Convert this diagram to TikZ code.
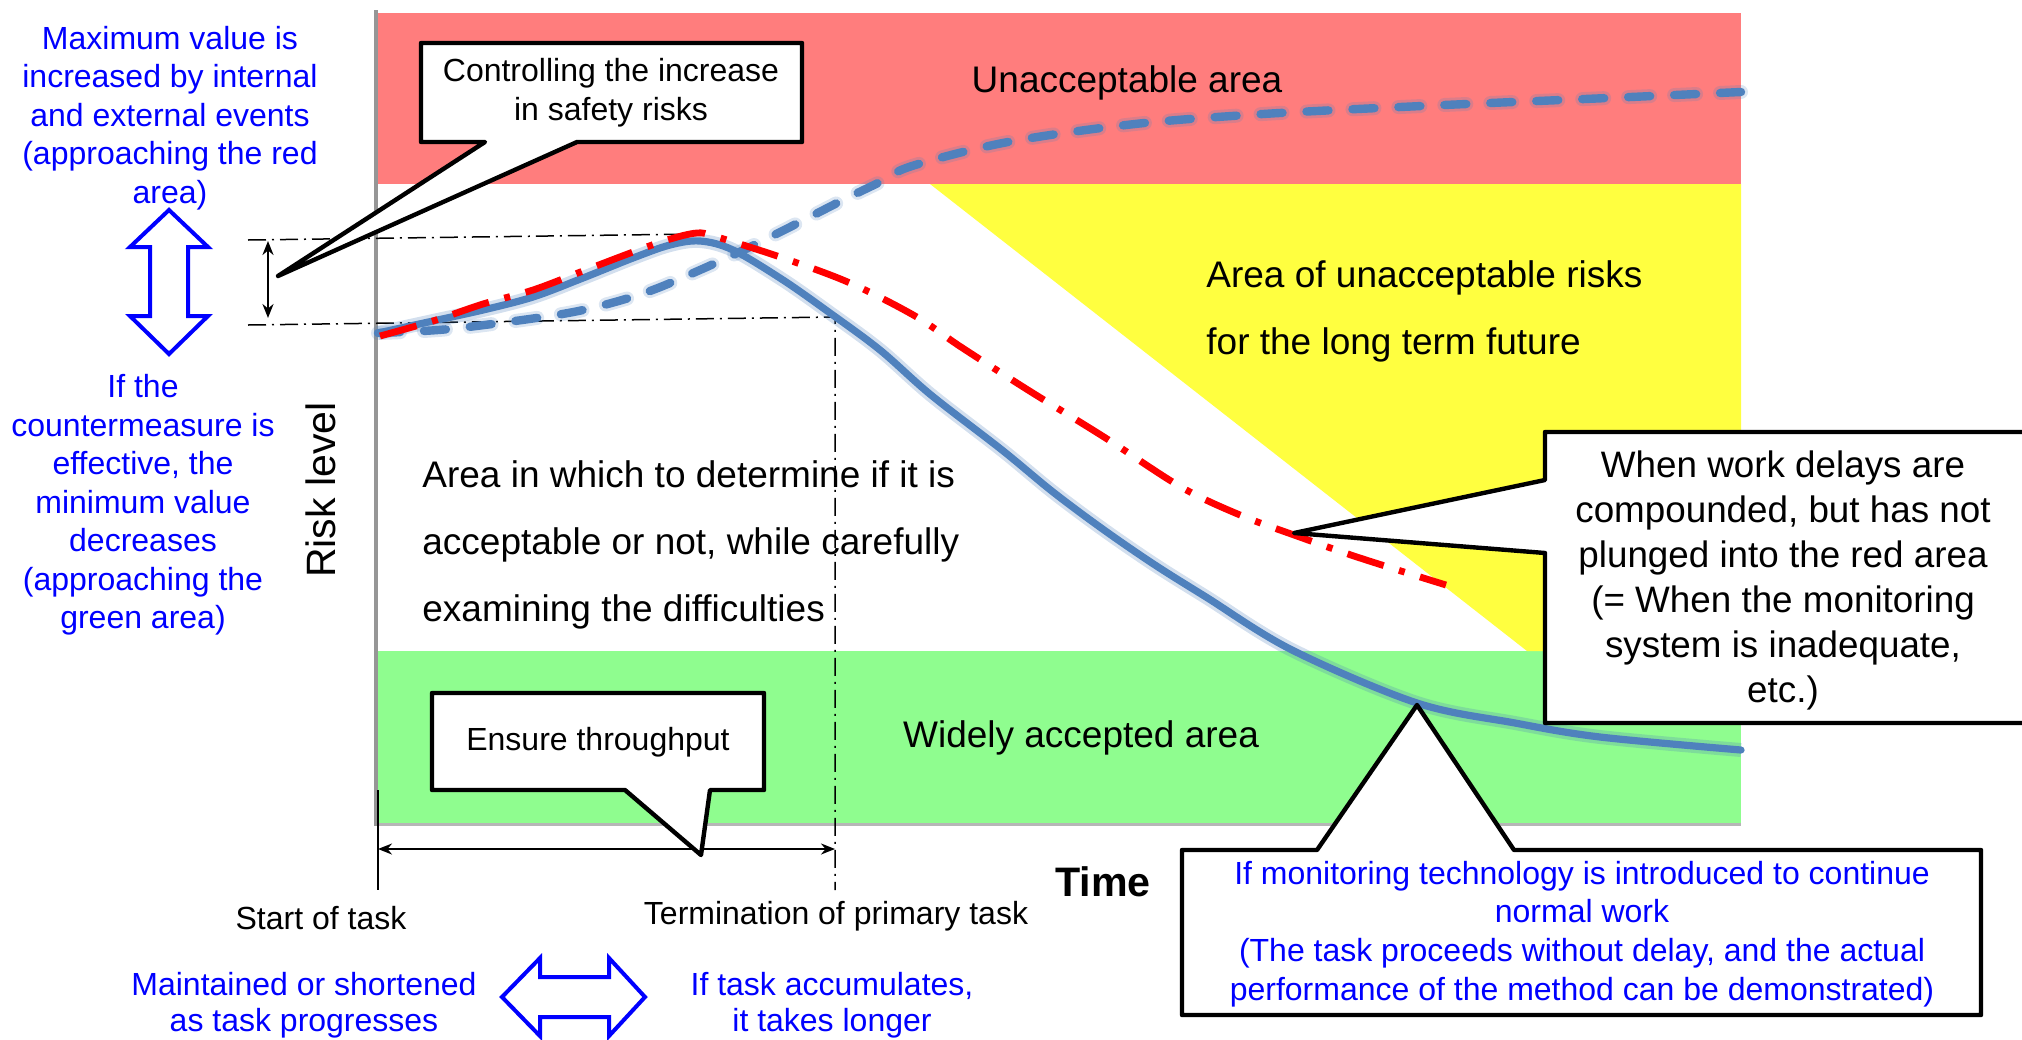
\documentclass[tikz,border=0pt]{standalone}
\usepackage{fontspec}
\setmainfont{Liberation Sans}
\usetikzlibrary{arrows.meta}

\definecolor{bandred}{RGB}{255,125,125}
\definecolor{bandyellow}{RGB}{255,255,64}
\definecolor{bandgreen}{RGB}{143,253,143}
\definecolor{curveblue}{RGB}{79,129,189}
\definecolor{curvered}{RGB}{255,0,0}
\definecolor{noteblue}{RGB}{0,0,255}
\definecolor{axisgray}{RGB}{150,150,150}

\begin{document}
\begin{tikzpicture}[x=0.5pt,y=-0.5pt,
  areatext/.style={font=\fontsize{18.5}{33.5}\selectfont, inner sep=0pt, align=left},
  plainlabel/.style={font=\fontsize{16}{19.25}\selectfont, inner sep=0pt, align=center},
  bluenote/.style={plainlabel, text=noteblue},
  balloon/.style={draw=black, fill=white, line width=2.2pt, line join=round},
  guide/.style={black, line width=0.75pt, dash pattern=on 9pt off 3pt on 1pt off 3pt},
  dimarrow/.style={black, line width=1.1pt, {Stealth[length=7pt,width=5.5pt]}-{Stealth[length=7pt,width=5.5pt]}},
  hollowarrow/.style={draw=noteblue, line width=2pt, line join=miter},
  riskcurve/.style={curveblue, line width=3.6pt, line cap=round,
    preaction={draw, curveblue, opacity=0.25, line width=7pt}},
  riskdashed/.style={curveblue, line width=4.2pt, line cap=round, dash pattern=on 11pt off 12pt,
    preaction={draw, curveblue, opacity=0.2, line width=7pt, line cap=round, dash pattern=on 11pt off 12pt}},
  delaycurve/.style={curvered, line width=3.4pt, dash pattern=on 19pt off 8pt on 3pt off 8pt}
]
\useasboundingbox (0,0) rectangle (2022,1039);

% risk bands
\fill[bandred] (376,13) rectangle (1741,184);
\fill[bandgreen] (376,651) rectangle (1741,823);
\fill[bandyellow] (930,184) -- (1741,184) -- (1741,651) -- (1527,651) -- cycle;
\draw[axisgray!70, line width=1.5pt] (378,824) -- (1741,824);
\draw[axisgray, line width=2pt] (376,10) -- (376,826);

% guide lines for the risk range and the primary task end
\coordinate (maxL) at (248,240);
\coordinate (maxR) at (697,234);
\coordinate (minL) at (248,325);
\coordinate (minR) at (835,317);
\coordinate (endB) at (835,890);
\draw[guide] (maxL) -- (maxR);
\draw[guide] (minL) -- (minR) -- (endB);

% range of risk level and task duration
\coordinate (rngtop) at (268,241);
\coordinate (rngbot) at (268,318);
\draw[dimarrow] (rngtop) -- (rngbot);
\coordinate (tstart) at (378,849);
\coordinate (tend) at (835,849);
\coordinate (tickT) at (378,790);
\coordinate (tickB) at (378,890);
\draw[black, line width=0.75pt] (tickT) -- (tickB);
\draw[dimarrow] (tstart) -- (tend);

% risk curves
\draw[riskdashed] plot[smooth, tension=0.55] coordinates {(378,333) (450,329) (550,316) (600,306) (650,291) (700,270) (750,247) (800,222) (843,200) (878,183) (912,166) (1008,142) (1135,124) (1263,114) (1422,106) (1608,98) (1741,92)};
\draw[riskcurve] plot[smooth, tension=0.55] coordinates {(378,333) (433,321) (483,310) (533,297) (583,278) (633,258) (670,245) (700,241) (733,250) (783,280) (830,313) (880,350) (931,395) (1002,450) (1053,492) (1104,530) (1155,565) (1206,597) (1292,650) (1417,703) (1515,723) (1600,737) (1741,750)};
\draw[delaycurve] plot[smooth, tension=0.55] coordinates {(380,336) (433,321) (483,304) (533,290) (583,271) (633,252) (667,240) (697,233) (717,237) (783,258) (850,283) (915,316) (961,347) (1028,390) (1104,437) (1181,487) (1240,515) (1294,535) (1360,558) (1446,585)};

% area labels
\node[areatext, anchor=center] (unacc) at (1127,83) {Unacceptable area};
\node[areatext, anchor=west] (longterm) at (1206,311) {Area of unacceptable risks\\for the long term future};
\node[areatext, anchor=west] (judge) at (422,545) {Area in which to determine if it is\\acceptable or not, while carefully\\examining the difficulties};
\node[areatext, anchor=center] (widely) at (1081,738) {Widely accepted area};

% axes labels
\node[font=\fontsize{20.5}{24}\selectfont, rotate=90, inner sep=0pt] (risklevel) at (321,490) {Risk level};
\node[font=\fontsize{20.6}{24}\selectfont\bfseries, inner sep=0pt] (time) at (1103,882) {Time};
\node[plainlabel] (start) at (321,918) {Start of task};
\node[plainlabel] (term) at (836,916) {Termination of primary task};

% blue notes with hollow arrows
\node[bluenote] (maxnote) at (170,118) {Maximum value is\\increased by internal\\and external events\\(approaching the red\\area)};
\node[bluenote] (minnote) at (143,505) {If the\\countermeasure is\\effective, the\\minimum value\\decreases\\(approaching the\\green area)};
\draw[hollowarrow] (169,210) -- (208,247) -- (188,247) -- (188,316) -- (208,316) -- (169,354) -- (130,316) -- (150,316) -- (150,247) -- (130,247) -- cycle;
\node[bluenote, font=\fontsize{16}{18}\selectfont] (shortnote) at (304,1005) {Maintained or shortened\\as task progresses};
\node[bluenote, font=\fontsize{16}{18}\selectfont] (longnote) at (832,1005) {If task accumulates,\\it takes longer};
\draw[hollowarrow] (502,997) -- (540,958) -- (540,977) -- (609,977) -- (609,958) -- (645,997) -- (609,1036) -- (609,1017) -- (540,1017) -- (540,1036) -- cycle;

% speech balloons
\coordinate (ctrltip) at (278,276);
\draw[balloon] (421,43) -- (802,43) -- (802,142) -- (577,142) -- (ctrltip) -- (485,142) -- (421,142) -- cycle;
\node[plainlabel, font=\fontsize{16}{19.5}\selectfont] (ctrl) at (611,93) {Controlling the increase\\in safety risks};

\coordinate (thrtip) at (701,855);
\draw[balloon] (432,693) -- (764,693) -- (764,790) -- (710,790) -- (thrtip) -- (625,790) -- (432,790) -- cycle;
\node[plainlabel] (thr) at (598,742) {Ensure throughput};

\coordinate (delaytip) at (1294,533);
\draw[balloon] (1545,432) -- (2040,432) -- (2040,723) -- (1545,723) -- (1545,553) -- (delaytip) -- (1545,480) -- cycle;
\node[plainlabel, font=\fontsize{18.4}{22.5}\selectfont] (delay) at (1783,580) {When work delays are\\compounded, but has not\\plunged into the red area\\(= When the monitoring\\system is inadequate,\\etc.)};

\coordinate (montip) at (1417,705);
\draw[balloon] (1182,850) -- (1317,850) -- (montip) -- (1514,850) -- (1981,850) -- (1981,1015) -- (1182,1015) -- cycle;
\node[bluenote, font=\fontsize{16}{19.4}\selectfont] (mon) at (1582,934) {If monitoring technology is introduced to continue\\normal work\\(The task proceeds without delay, and the actual\\performance of the method can be demonstrated)};
\end{tikzpicture}
\end{document}
